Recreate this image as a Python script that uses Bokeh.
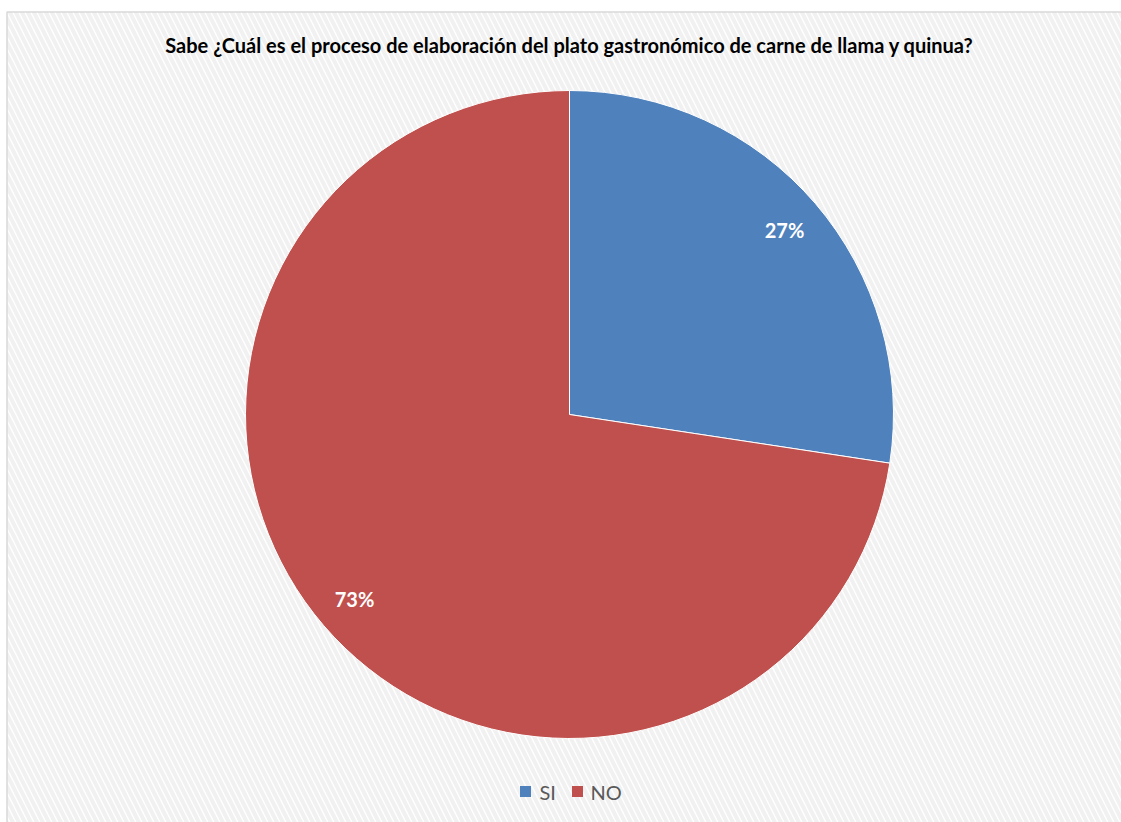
import math
from bokeh.plotting import figure
from bokeh.models import Range1d, ColumnDataSource
from bokeh.core.properties import value
from bokeh.embed import file_html
from bokeh.resources import INLINE

# ---- data ----
title_text = "Sabe ¿Cuál es el proceso de elaboración del plato gastronómico de carne de llama y quinua?"
categories = ["SI", "NO"]
percent_values = [27.4, 72.6]
colors = ["#4F81BD", "#C0504D"]

# ---- layout (pixel-based coordinate system) ----
W, H = 1121, 822


def py(y_pix):
    return H - y_pix


p = figure(width=W, height=H, output_backend="svg", toolbar_location=None,
           x_range=Range1d(0, W), y_range=Range1d(0, H),
           min_border=0, outline_line_color=None)
p.axis.visible = False
p.xgrid.visible = False
p.ygrid.visible = False
p.background_fill_color = "white"
p.border_fill_color = "white"

# chart area background with diagonal hatch
p.quad(left=[6.5], right=[1130], top=[py(11.5)], bottom=[-10],
       fill_color="white", line_color="#D9D9D9", line_width=1.5,
       hatch_pattern="left_diagonal_line", hatch_color="#F1F1F1",
       hatch_scale=12, hatch_weight=4)

# pie
cx, cy, R = 569, py(414), 324
total = sum(percent_values)
fracs = [v / total for v in percent_values]
starts, ends, lx, ly, labels = [], [], [], [], []
cum = 0.0
for f in fracs:
    a0 = math.pi / 2 - 2 * math.pi * cum
    a1 = math.pi / 2 - 2 * math.pi * (cum + f)
    starts.append(a0)
    ends.append(a1)
    mid = (a0 + a1) / 2
    lx.append(cx + 0.875 * R * math.cos(mid))
    ly.append(cy + 0.875 * R * math.sin(mid))
    labels.append(f"{round(f * 100)}%")
    cum += f

src = ColumnDataSource(dict(start=starts, end=ends, color=colors,
                            lx=lx, ly=ly, label=labels, cat=categories))
p.wedge(x=cx, y=cy, radius=R, start_angle="start", end_angle="end",
        direction="clock", fill_color="color", line_color="white",
        line_width=1, source=src)

p.text(x="lx", y="ly", text="label", source=src, text_color="white",
       text_font=value("Lato"), text_font_style="bold", text_font_size="20px",
       text_align="center", text_baseline="middle")

# title
p.text(x=[569], y=[py(44)], text=[title_text], text_font=value("Lato"),
       text_font_style="bold", text_font_size="20px", text_color="black",
       text_align="center", text_baseline="middle")

# legend
leg_sq_x = [525, 577]
leg_tx = [539, 590]
p.scatter(x=leg_sq_x, y=[py(791)] * 2, marker="square", size=11,
          fill_color=colors, line_color=None)
p.text(x=leg_tx, y=[py(791)] * 2, text=categories, text_font=value("Lato"),
       text_font_size="20px", text_color="#595959",
       text_align="left", text_baseline="middle")

open("out.html", "w").write(file_html(p, INLINE))
